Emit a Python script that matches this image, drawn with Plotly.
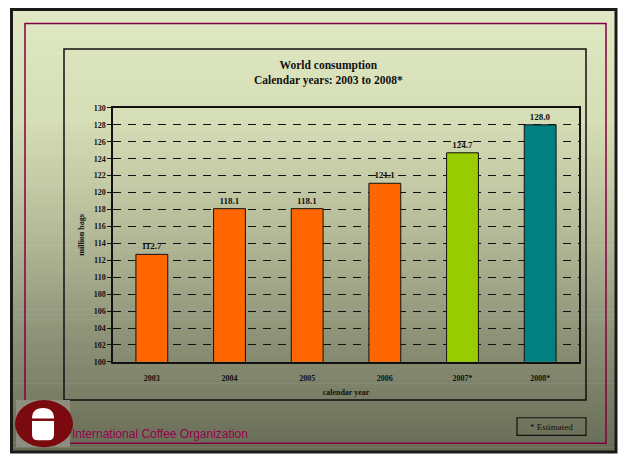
import plotly.graph_objects as go

# ---- data ----
years = ["2003", "2004", "2005", "2006", "2007*", "2008*"]
consumption = [112.7, 118.1, 118.1, 121.1, 124.7, 128.0]
bar_colors = ["#ff6600", "#ff6600", "#ff6600", "#ff6600", "#99cc00", "#008080"]
y_ticks = list(range(100, 131, 2))

W, H = 623, 461

def px(x):
    return x / W

def py(y):
    return 1 - y / H

SERIF = "Liberation Serif"

fig = go.Figure()
fig.add_trace(go.Bar(
    x=years, y=consumption,
    marker=dict(color=bar_colors, line=dict(color="#111111", width=1)),
    text=[f"{v:.1f}" for v in consumption],
    textposition="outside",
    textfont=dict(family=SERIF, size=9, color="#111111", weight="bold"),
    cliponaxis=False,
    hoverinfo="x+y",
))

shapes = []
# gradient background inside outer border (decorative)
stops = [(0.0, (224, 232, 196)), (0.25, (214, 222, 182)), (0.5, (181, 187, 152)),
         (0.75, (139, 144, 118)), (1.0, (104, 108, 86))]

def grad(t):
    for i in range(len(stops) - 1):
        t0, c0 = stops[i]
        t1, c1 = stops[i + 1]
        if t0 <= t <= t1:
            f = (t - t0) / (t1 - t0)
            return "rgb(%d,%d,%d)" % tuple(round(c0[k] + (c1[k] - c0[k]) * f) for k in range(3))
    return "rgb(%d,%d,%d)" % stops[-1][1]

top, bot = 5, 457
n = 90
step = (bot - top) / n
for i in range(n):
    y0 = top + i * step
    y1 = y0 + step + 0.6
    shapes.append(dict(type="rect", xref="paper", yref="paper", layer="below",
                       x0=px(11), x1=px(616), y0=py(y1), y1=py(y0),
                       fillcolor=grad((i + 0.5) / n), line=dict(width=0)))

# outer border
shapes.append(dict(type="rect", xref="paper", yref="paper", layer="below",
                   x0=px(11.5), x1=px(616), y0=py(457), y1=py(5.5),
                   line=dict(color="#1a1a1a", width=3)))
# maroon frame
shapes.append(dict(type="rect", xref="paper", yref="paper", layer="below",
                   x0=px(25), x1=px(606), y0=py(448), y1=py(20),
                   line=dict(color="#800040", width=1.5)))
# chart box
shapes.append(dict(type="rect", xref="paper", yref="paper", layer="below",
                   x0=px(64), x1=px(586), y0=py(404), y1=py(46),
                   line=dict(color="#111111", width=1.5)))
# estimated box
shapes.append(dict(type="rect", xref="paper", yref="paper", layer="below",
                   x0=px(517), x1=px(586), y0=py(440), y1=py(422),
                   line=dict(color="#111111", width=1.2)))
# logo
shapes.append(dict(type="rect", xref="paper", yref="paper", layer="below",
                   x0=px(16), x1=px(70), y0=py(452), y1=py(404),
                   fillcolor="#8d8e80", line=dict(width=0)))
shapes.append(dict(type="circle", xref="paper", yref="paper", layer="below",
                   x0=px(15), x1=px(73), y0=py(452), y1=py(404),
                   fillcolor="#7a0a0e", line=dict(width=0)))
# white cup shape built in paper coords
cx0, cx1 = 32, 54
ctop, cbot = 412, 445
r = (cx1 - cx0) / 2
path = (f"M {px(cx0)},{py(ctop + r)} "
        f"Q {px(cx0)},{py(ctop)} {px((cx0 + cx1) / 2)},{py(ctop)} "
        f"Q {px(cx1)},{py(ctop)} {px(cx1)},{py(ctop + r)} "
        f"L {px(cx1)},{py(cbot - 6)} "
        f"Q {px(cx1)},{py(cbot)} {px(cx1 - 6)},{py(cbot)} "
        f"L {px(cx0 + 6)},{py(cbot)} "
        f"Q {px(cx0)},{py(cbot)} {px(cx0)},{py(cbot - 6)} Z")
shapes.append(dict(type="path", xref="paper", yref="paper", layer="below",
                   path=path, fillcolor="white", line=dict(width=0)))
shapes.append(dict(type="line", xref="paper", yref="paper", layer="below",
                   x0=px(32), x1=px(54), y0=py(424), y1=py(424),
                   line=dict(color="#7a0a0e", width=2.5)))

annotations = [
    dict(text="<b>World consumption</b><br><b>Calendar years: 2003 to 2008*</b>",
         xref="paper", yref="paper", x=px(328), y=py(70), xanchor="center", yanchor="middle",
         showarrow=False, font=dict(family=SERIF, size=11.5, color="#111111")),
    dict(text="* Estimated", xref="paper", yref="paper", x=px(551.5), y=py(431),
         xanchor="center", yanchor="middle", showarrow=False,
         font=dict(family=SERIF, size=9, color="#111111")),
    dict(text="International Coffee Organization", xref="paper", yref="paper",
         x=px(70), y=py(448), xanchor="left", yanchor="bottom", showarrow=False,
         font=dict(family="Liberation Sans", size=12, color="#99004d")),
]

fig.update_layout(
    width=W, height=H,
    margin=dict(l=0, r=0, t=0, b=0),
    paper_bgcolor="white",
    plot_bgcolor="rgba(0,0,0,0)",
    showlegend=False,
    bargap=0.59,
    shapes=shapes,
    annotations=annotations,
    xaxis=dict(
        domain=[px(113), px(579)],
        showline=True, linecolor="#111111", linewidth=1.5, mirror=True,
        ticks="outside", ticklen=8, tickcolor="rgba(0,0,0,0)", showgrid=False,
        tickfont=dict(family=SERIF, size=8, color="#111111", weight="bold"),
        title=dict(text="calendar year", standoff=7,
                   font=dict(family=SERIF, size=8, color="#111111", weight="bold")),
    ),
    yaxis=dict(
        domain=[py(365), py(106)],
        range=[100, 130],
        tickvals=y_ticks,
        showline=True, linecolor="#111111", linewidth=1.5, mirror=True,
        ticks="outside", ticklen=4, tickcolor="#111111",
        showgrid=True, gridcolor="#111111", gridwidth=1, griddash="8px,7px",
        tickfont=dict(family=SERIF, size=8, color="#111111", weight="bold"),
        title=dict(text="million bags", standoff=8,
                   font=dict(family=SERIF, size=8, color="#111111", weight="bold")),
        zeroline=False,
    ),
)

fig.write_html("out.html",
               config={"displayModeBar": False},
               post_script="document.body.style.margin='0';document.body.style.padding='0';"
                           "document.body.style.overflow='hidden';")
